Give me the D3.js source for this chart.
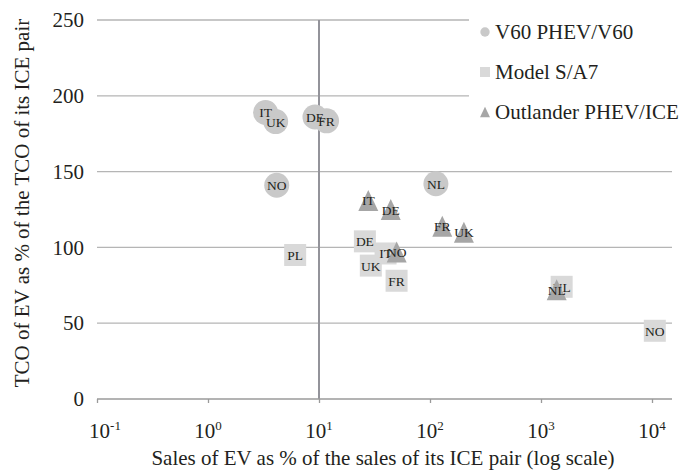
<!DOCTYPE html>
<html>
<head>
<meta charset="utf-8">
<script src="https://cdn.jsdelivr.net/npm/d3@7"></script>
<style>
  html, body { margin: 0; padding: 0; background: #fff; }
  svg { display: block; font-family: "Liberation Serif", "Times New Roman", serif; }
</style>
</head>
<body>
<svg id="chart" width="683" height="470"></svg>
<script>
// ---- data ----
const seriesNames = ["V60 PHEV/V60", "Model S/A7", "Outlander PHEV/ICE"];

const v60Countries = ["IT", "UK", "DE", "FR", "NO", "NL"];
const v60Sales     = [3.3, 4.07, 9.2, 11.7, 4.16, 113];
const v60TCO       = [189, 183, 186, 183.5, 141, 142];

const modelSCountries = ["PL", "DE", "IT", "UK", "FR", "NL", "NO"];
const modelSSales     = [6.1, 25.9, 39.8, 29.3, 50, 1535, 10600];
const modelSTCO       = [95, 104, 96, 88, 78, 74, 45];

const outlanderCountries = ["IT", "DE", "NO", "FR", "UK", "NL"];
const outlanderSales     = [27.8, 44.3, 50.1, 129, 202, 1384];
const outlanderTCO       = [131, 125, 97, 114, 110, 72];

const xTickValues = [0.1, 1, 10, 100, 1000, 10000];
const xTickExponents = ["-1", "0", "1", "2", "3", "4"];
const yTickValues = [0, 50, 100, 150, 200, 250];

const xTitle = "Sales of EV as % of the sales of its ICE pair (log scale)";
const yTitle = "TCO of EV as % of the TCO of its ICE pair";

// ---- layout ----
const svg = d3.select("#chart");
const pLeft = 97, pRight = 672, pTop = 20, pBottom = 399;

const x = d3.scaleLog().domain([0.1, Math.pow(10, 4 + (pRight - 652) / 111)]).range([pLeft, pRight]);
const y = d3.scaleLinear().domain([0, 250]).range([pBottom, pTop]);

const colors = { circle: "#c9c9c9", square: "#d9d9d9", triangle: "#a6a6a6" };
const textColor = "#231f20";
const fontMain = 21;

// custom triangle: bbox-centred, slightly taller than wide
const tallTriangle = {
  draw(ctx, size) {
    const w = Math.sqrt(size), h = w * 1.05;
    ctx.moveTo(0, -h / 2);
    ctx.lineTo(w / 2, h / 2);
    ctx.lineTo(-w / 2, h / 2);
    ctx.closePath();
  }
};

// horizontal gridlines (above 0)
svg.append("g").selectAll("line")
  .data(yTickValues.filter(d => d > 0))
  .join("line")
  .attr("x1", pLeft).attr("x2", pRight)
  .attr("y1", d => y(d)).attr("y2", d => y(d))
  .attr("stroke", "#b5b5b5").attr("stroke-width", 1.3);

// vertical reference line at 10^1
svg.append("line")
  .attr("x1", x(10)).attr("x2", x(10))
  .attr("y1", y(250)).attr("y2", y(0))
  .attr("stroke", "#93939a").attr("stroke-width", 2);

// x axis
const xAxis = d3.axisBottom(x).tickValues(xTickValues).tickSize(4).tickFormat("");
const gx = svg.append("g").attr("transform", `translate(0,${y(0)})`).call(xAxis);
gx.select(".domain").attr("stroke", "#9a9a9a").attr("stroke-width", 1.5).attr("d", `M${pLeft},0H${pRight}`);
gx.selectAll(".tick line").attr("stroke", "#9a9a9a").attr("stroke-width", 1.3);

// x tick labels with superscript exponent
const xl = svg.append("g").selectAll("text")
  .data(xTickValues)
  .join("text")
  .attr("x", d => x(d))
  .attr("dx", (d, i) => i === 0 ? 8 : 0)
  .attr("y", 438)
  .attr("text-anchor", "middle")
  .attr("font-size", fontMain)
  .attr("fill", textColor);
xl.append("tspan").text("10");
xl.append("tspan").attr("dy", -8).attr("font-size", 13).text((d, i) => xTickExponents[i]);

// y tick labels
const yAxis = d3.axisLeft(y).tickValues(yTickValues).tickSize(0).tickFormat(d3.format("d"));
const gy = svg.append("g").attr("transform", `translate(${pLeft},0)`).call(yAxis);
gy.select(".domain").remove();
gy.selectAll(".tick text")
  .attr("x", -13)
  .attr("font-size", fontMain)
  .attr("font-family", "Liberation Serif, Times New Roman, serif")
  .attr("fill", textColor);

// axis titles
svg.append("text")
  .attr("x", 383).attr("y", 465)
  .attr("text-anchor", "middle")
  .attr("font-size", fontMain)
  .attr("fill", textColor)
  .text(xTitle);

svg.append("text")
  .attr("transform", `translate(29,203) rotate(-90)`)
  .attr("text-anchor", "middle")
  .attr("font-size", fontMain)
  .attr("fill", textColor)
  .text(yTitle);

// ---- markers ----
const series = [
  { type: "circle", countries: v60Countries, sales: v60Sales, tco: v60TCO, symbol: d3.symbolCircle, size: Math.PI * 12.5 * 12.5 },
  { type: "square", countries: modelSCountries, sales: modelSSales, tco: modelSTCO, symbol: d3.symbolSquare, size: 22 * 22 },
  { type: "triangle", countries: outlanderCountries, sales: outlanderSales, tco: outlanderTCO, symbol: tallTriangle, size: 20 * 20 }
];

series.forEach(s => {
  const pts = s.countries.map((c, i) => ({ c, sx: s.sales[i], ty: s.tco[i] }));
  const g = svg.append("g");
  g.selectAll("path")
    .data(pts)
    .join("path")
    .attr("transform", d => `translate(${x(d.sx)},${y(d.ty)})`)
    .attr("d", d3.symbol().type(s.symbol).size(s.size))
    .attr("fill", colors[s.type]);
  g.selectAll("text")
    .data(pts)
    .join("text")
    .attr("x", d => x(d.sx))
    .attr("y", d => y(d.ty) + 5)
    .attr("text-anchor", "middle")
    .attr("font-size", 13.5)
    .attr("fill", textColor)
    .text(d => d.c);
});

// ---- legend ----
const legend = svg.append("g");
legend.append("rect").attr("x", 469).attr("y", 0).attr("width", 214).attr("height", 140).attr("fill", "#fff");
const legendSymbols = [
  { symbol: d3.symbolCircle, size: Math.PI * 4.7 * 4.7, color: colors.circle },
  { symbol: d3.symbolSquare, size: 10 * 10, color: colors.square },
  { symbol: tallTriangle, size: 10 * 10, color: colors.triangle }
];
seriesNames.forEach((name, i) => {
  const cy = 32 + i * 40;
  legend.append("path")
    .attr("transform", `translate(485,${cy})`)
    .attr("d", d3.symbol().type(legendSymbols[i].symbol).size(legendSymbols[i].size))
    .attr("fill", legendSymbols[i].color);
  legend.append("text")
    .attr("x", 495).attr("y", cy + 6.5)
    .attr("font-size", fontMain)
    .attr("fill", textColor)
    .text(name);
});
</script>
</body>
</html>
